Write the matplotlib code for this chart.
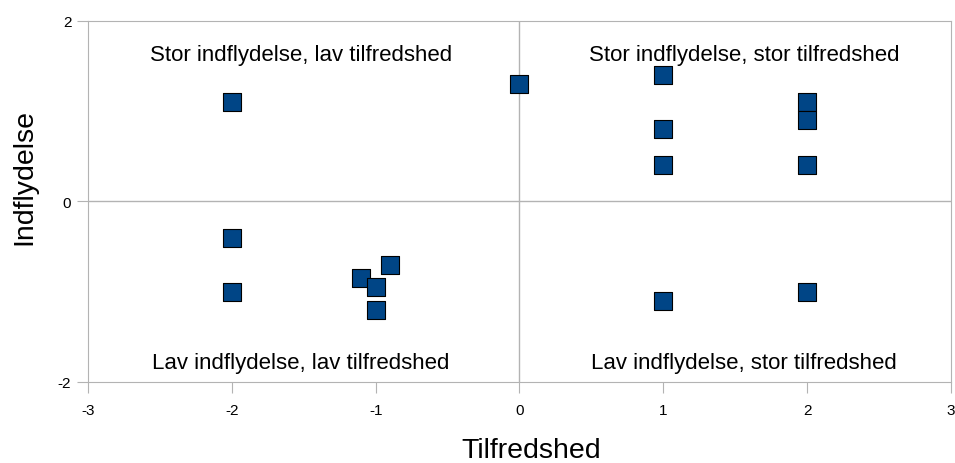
import matplotlib
matplotlib.use("Agg")
import matplotlib.pyplot as plt

plt.rcParams['font.family'] = ['Liberation Sans', 'DejaVu Sans']
plt.rcParams['axes.unicode_minus'] = False

# data: tilfredshed (x) vs indflydelse (y)
tilfredshed = [-2, 0, 1, 1, 1, 2, 2, 2, -2, -2, -1.1, -0.9, -1.0, -1.0, 1, 2]
indflydelse = [1.1, 1.3, 1.4, 0.8, 0.4, 1.1, 0.9, 0.4, -0.4, -1.0, -0.85, -0.7, -0.95, -1.2, -1.1, -1.0]

x_ticks = [-3, -2, -1, 0, 1, 2, 3]
y_ticks = [-2, 0, 2]

quadrant_labels = [
    (-1.52, 1.63, "Stor indflydelse, lav tilfredshed"),
    (1.56, 1.63, "Stor indflydelse, stor tilfredshed"),
    (-1.52, -1.78, "Lav indflydelse, lav tilfredshed"),
    (1.56, -1.78, "Lav indflydelse, stor tilfredshed"),
]

grey = '#b3b3b3'

fig = plt.figure(figsize=(9.55, 4.64), dpi=100)
ax = fig.add_axes([0.0921, 0.1746, 0.9037, 0.778])

ax.axhline(0, color=grey, lw=1, zorder=1)
ax.axvline(0, color=grey, lw=1, zorder=1)

ax.scatter(tilfredshed, indflydelse, marker='s', s=175, c='#004586',
           edgecolors='black', linewidths=0.8, zorder=3)

for x, y, t in quadrant_labels:
    ax.text(x, y, t, ha='center', va='center', fontsize=16, zorder=4)

ax.set_xlim(-3, 3)
ax.set_ylim(-2, 2)
ax.set_xticks(x_ticks)
ax.set_yticks(y_ticks)
ax.tick_params(direction='out', length=8, color=grey, labelsize=11)
ax.tick_params(axis='x', pad=7)
ax.tick_params(axis='y', pad=4)

for s in ax.spines.values():
    s.set_color(grey)

# axis titles placed in figure pixels like the reference
fig.text(531 / 955, 0.0, "Tilfredshed", ha='center', va='bottom', fontsize=20.5)
fig.text(24 / 955, 1 - 177 / 464, "Indflydelse", ha='center', va='center',
         rotation=90, fontsize=20.5)

fig.savefig("out.png", dpi=100)
